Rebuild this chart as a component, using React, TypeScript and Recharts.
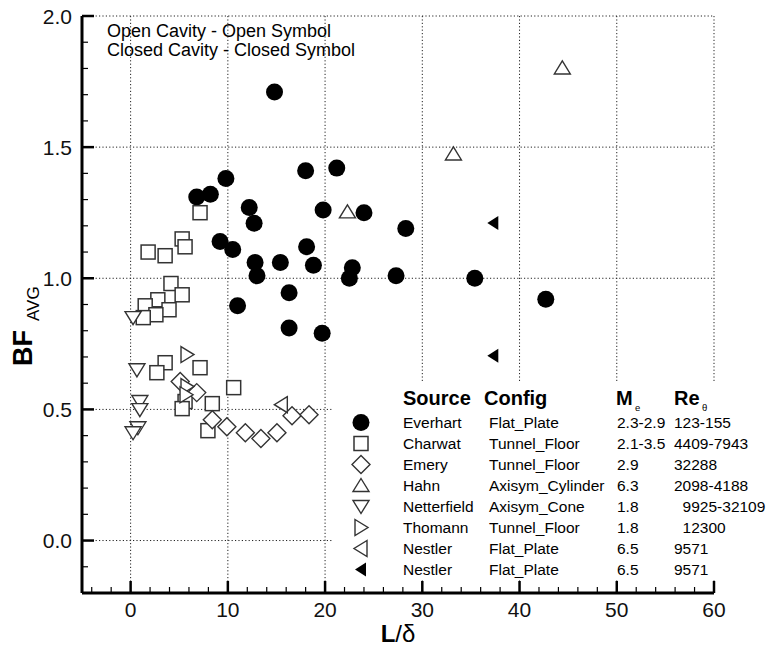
import React from 'react'
import { ScatterChart, Scatter, XAxis, YAxis, CartesianGrid, Legend } from 'recharts'

// data: L/delta vs BF_avg
const EVERHART = [
  { x: 14.8, y: 1.71 }, { x: 9.8, y: 1.38 }, { x: 8.2, y: 1.32 }, { x: 6.8, y: 1.31 },
  { x: 18.0, y: 1.41 }, { x: 21.2, y: 1.42 }, { x: 12.2, y: 1.27 }, { x: 19.8, y: 1.26 },
  { x: 12.7, y: 1.21 }, { x: 24.0, y: 1.25 }, { x: 28.3, y: 1.19 }, { x: 9.2, y: 1.14 },
  { x: 10.5, y: 1.11 }, { x: 18.1, y: 1.12 }, { x: 12.8, y: 1.06 }, { x: 15.4, y: 1.06 },
  { x: 18.8, y: 1.05 }, { x: 13.0, y: 1.01 }, { x: 22.8, y: 1.04 }, { x: 22.5, y: 1.0 },
  { x: 27.3, y: 1.01 }, { x: 35.4, y: 1.0 }, { x: 42.7, y: 0.92 }, { x: 16.3, y: 0.945 },
  { x: 11.0, y: 0.895 }, { x: 16.3, y: 0.81 }, { x: 19.7, y: 0.79 },
]
const CHARWAT = [
  { x: 7.14, y: 1.25 }, { x: 5.3, y: 1.15 }, { x: 5.6, y: 1.12 }, { x: 1.8, y: 1.1 },
  { x: 3.55, y: 1.086 }, { x: 4.15, y: 0.98 }, { x: 5.3, y: 0.937 }, { x: 2.8, y: 0.918 },
  { x: 1.5, y: 0.895 }, { x: 3.95, y: 0.88 }, { x: 2.6, y: 0.861 }, { x: 1.3, y: 0.85 },
  { x: 3.55, y: 0.678 }, { x: 2.7, y: 0.64 }, { x: 7.14, y: 0.659 }, { x: 10.6, y: 0.583 },
  { x: 8.4, y: 0.522 }, { x: 5.6, y: 0.53 }, { x: 5.3, y: 0.503 }, { x: 7.95, y: 0.419 },
]
const EMERY = [
  { x: 5.1, y: 0.606 }, { x: 6.8, y: 0.564 }, { x: 8.4, y: 0.461 }, { x: 9.9, y: 0.434 },
  { x: 11.8, y: 0.411 }, { x: 13.4, y: 0.389 }, { x: 15.05, y: 0.411 }, { x: 16.6, y: 0.476 },
  { x: 18.35, y: 0.48 },
]
const HAHN = [{ x: 22.3, y: 1.253 }, { x: 33.2, y: 1.474 }, { x: 44.4, y: 1.802 }]
const NETTERFIELD = [
  { x: 0.25, y: 0.85 }, { x: 0.65, y: 0.651 }, { x: 0.95, y: 0.53 }, { x: 0.95, y: 0.499 },
  { x: 0.75, y: 0.43 }, { x: 0.25, y: 0.411 },
]
const THOMANN = [{ x: 5.8, y: 0.709 }, { x: 5.8, y: 0.587 }, { x: 5.7, y: 0.556 }]
const NESTLER_OPEN = [{ x: 15.5, y: 0.518 }]
const NESTLER_CLOSED = [{ x: 37.3, y: 1.211 }, { x: 37.3, y: 0.705 }]

const SOURCES = ['Everhart', 'Charwat', 'Emery', 'Hahn', 'Netterfield', 'Thomann', 'Nestler', 'Nestler']
const CONFIGS = ['Flat_Plate', 'Tunnel_Floor', 'Tunnel_Floor', 'Axisym_Cylinder', 'Axisym_Cone', 'Tunnel_Floor', 'Flat_Plate', 'Flat_Plate']
const MACH = ['2.3-2.9', '2.1-3.5', '2.9', '6.3', '1.8', '1.8', '6.5', '6.5']
const REYNOLDS = ['123-155', '4409-7943', '32288', '2098-4188', '  9925-32109', '  12300', '9571', '9571']

const X_TICKS = [-4, -2, 0, 2, 4, 6, 8, 10, 12, 14, 16, 18, 20, 22, 24, 26, 28, 30, 32, 34, 36, 38, 40, 42, 44, 46, 48, 50, 52, 54, 56, 58, 60]
const Y_TICKS = [-0.1, 0, 0.1, 0.2, 0.3, 0.4, 0.5, 0.6, 0.7, 0.8, 0.9, 1.0, 1.1, 1.2, 1.3, 1.4, 1.5, 1.6, 1.7, 1.8, 1.9, 2.0]
const X_GRID = [0, 10, 20, 30, 40, 50, 60]
const Y_GRID = [0, 0.5, 1.0, 1.5, 2.0]

const FONT = '"Liberation Sans", Arial, Helvetica, sans-serif'
const STROKE = '#333'

const Dot = ({ cx, cy }: any) => <circle cx={cx} cy={cy} r={8.5} fill="#000" />
const Square = ({ cx, cy }: any) => (
  <rect x={cx - 7} y={cy - 7} width={14} height={14} fill="#fff" stroke={STROKE} strokeWidth={1.5} />
)
const Diamond = ({ cx, cy }: any) => (
  <polygon points={`${cx},${cy - 9} ${cx + 9},${cy} ${cx},${cy + 9} ${cx - 9},${cy}`} fill="#fff" stroke={STROKE} strokeWidth={1.4} />
)
const TriUp = ({ cx, cy }: any) => (
  <polygon points={`${cx},${cy - 7} ${cx + 8},${cy + 6} ${cx - 8},${cy + 6}`} fill="#fff" stroke={STROKE} strokeWidth={1.4} />
)
const TriDown = ({ cx, cy }: any) => (
  <polygon points={`${cx - 8},${cy - 6} ${cx + 8},${cy - 6} ${cx},${cy + 7}`} fill="#fff" stroke={STROKE} strokeWidth={1.4} />
)
const TriRight = ({ cx, cy }: any) => (
  <polygon points={`${cx - 6},${cy - 8} ${cx + 7},${cy} ${cx - 6},${cy + 8}`} fill="#fff" stroke={STROKE} strokeWidth={1.4} />
)
const TriLeft = ({ cx, cy }: any) => (
  <polygon points={`${cx + 6},${cy - 8} ${cx - 7},${cy} ${cx + 6},${cy + 8}`} fill="#fff" stroke={STROKE} strokeWidth={1.4} />
)
const TriLeftFilled = ({ cx, cy }: any) => (
  <polygon points={`${cx + 5},${cy - 7} ${cx - 6},${cy} ${cx + 5},${cy + 7}`} fill="#000" />
)

const SYMBOLS = [Dot, Square, Diamond, TriUp, TriDown, TriRight, TriLeft, TriLeftFilled]
const SERIES = [EVERHART, CHARWAT, EMERY, HAHN, NETTERFIELD, THOMANN, NESTLER_OPEN, NESTLER_CLOSED]

function XTick({ x, y, payload }: any) {
  const v = payload.value
  const major = v % 10 === 0
  return (
    <g>
      <line x1={x} x2={x} y1={y} y2={y - (major ? 12 : 6)} stroke="#000" strokeWidth={major ? 2.5 : 1.2} />
      {major && (
        <text x={x} y={y + 24} textAnchor="middle" fontFamily={FONT} fontSize={21} fill="#111">{v}</text>
      )}
    </g>
  )
}

function YTick({ x, y, payload }: any) {
  const v = payload.value
  const major = Math.abs(v * 2 - Math.round(v * 2)) < 1e-6
  return (
    <g>
      <line x1={x} x2={x + (major ? 12 : 6)} y1={y} y2={y} stroke="#000" strokeWidth={major ? 2.5 : 1.2} />
      {major && (
        <text x={x - 10} y={y + 7.5} textAnchor="end" fontFamily={FONT} fontSize={21} fill="#111">{v.toFixed(1)}</text>
      )}
    </g>
  )
}

function LegendTable() {
  const rowY = (i: number) => 39.5 + 21 * i
  return (
    <svg width={436} height={196} style={{ display: 'block' }}>
      <g fontFamily={FONT} fill="#000">
        <text x={71} y={22} fontSize={20} fontWeight="bold">Source</text>
        <text x={152} y={22} fontSize={20} fontWeight="bold">Config</text>
        <text x={284} y={22} fontSize={20} fontWeight="bold">M</text>
        <text x={342} y={22} fontSize={20} fontWeight="bold">Re</text>
        <text x={303} y={28} fontSize={9.5}>e</text>
        <text x={370} y={28} fontSize={9.5}>θ</text>
        {SOURCES.map((s, i) => {
          const Sym = SYMBOLS[i]
          const cy = rowY(i)
          return (
            <g key={i}>
              <Sym cx={29} cy={cy} />
              <text y={cy + 5.4} fontSize={15.5} style={{ whiteSpace: 'pre' }}>
                <tspan x={71}>{s}</tspan>
                <tspan x={157}>{CONFIGS[i]}</tspan>
                <tspan x={285}>{MACH[i]}</tspan>
                <tspan x={342}>{REYNOLDS[i]}</tspan>
              </text>
            </g>
          )
        })}
      </g>
    </svg>
  )
}

export default function App() {
  return (
    <div style={{ position: 'absolute', left: 0, top: 0, width: 768, height: 647, background: '#fff' }}>
      <ScatterChart width={768} height={647} margin={{ top: 16, right: 54, bottom: 0, left: 0 }}>
        <CartesianGrid
          horizontalValues={Y_GRID}
          verticalValues={X_GRID}
          stroke="#222"
          strokeDasharray="1.2 2.2"
        />
        <XAxis
          type="number"
          dataKey="x"
          domain={[-5, 60]}
          allowDataOverflow
          ticks={X_TICKS}
          interval={0}
          height={54}
          tickSize={0}
          tickMargin={0}
          tick={<XTick />}
          axisLine={{ stroke: '#000', strokeWidth: 3 }}
          label={{
            content: ({ viewBox }: any) => (
              <text x={viewBox.x + viewBox.width / 2} y={642} textAnchor="middle" fontFamily={FONT} fontSize={24} fill="#000">
                <tspan fontWeight="bold">L</tspan>
                <tspan>/δ</tspan>
              </text>
            ),
          }}
        />
        <YAxis
          type="number"
          dataKey="y"
          domain={[-0.2, 2.0]}
          allowDataOverflow
          ticks={Y_TICKS}
          interval={0}
          width={82}
          tickSize={0}
          tickMargin={0}
          tick={<YTick />}
          axisLine={{ stroke: '#000', strokeWidth: 3 }}
          label={{
            content: () => (
              <text transform="translate(32,366) rotate(-90)" x={0} y={0} fontFamily={FONT} fill="#000">
                <tspan fontSize={27} fontWeight="bold">BF</tspan>
                <tspan fontSize={17} dx={9} dy={7}>AVG</tspan>
              </text>
            ),
          }}
        />
        {SERIES.map((data, i) => {
          const Sym = SYMBOLS[i]
          return (
            <Scatter
              key={i}
              name={SOURCES[i]}
              data={data}
              isAnimationActive={false}
              shape={(p: any) => <Sym cx={p.cx} cy={p.cy} />}
            />
          )
        })}
        <Legend
          layout="vertical"
          align="center"
          verticalAlign="middle"
          content={() => <LegendTable />}
          wrapperStyle={{ left: 332, top: 383, width: 436, height: 196, background: '#fff' }}
        />
        <text fontFamily={FONT} fontSize={18} fill="#000">
          <tspan x={107} y={37}>Open Cavity - Open Symbol</tspan>
          <tspan x={107} y={56}>Closed Cavity - Closed Symbol</tspan>
        </text>
      </ScatterChart>
    </div>
  )
}
